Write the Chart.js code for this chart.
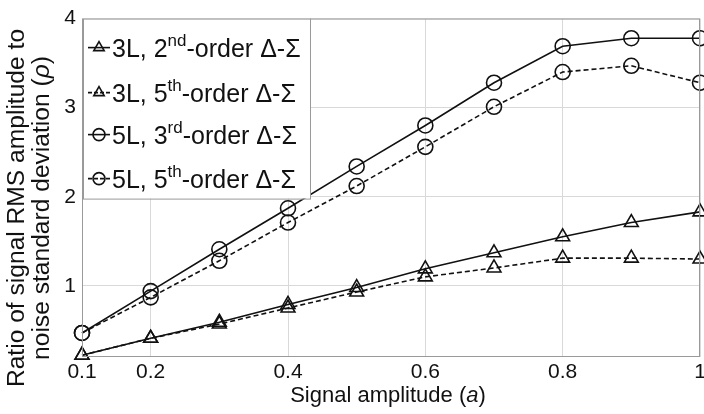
<!DOCTYPE html>
<html>
<head>
<meta charset="utf-8">
<script src="https://cdn.jsdelivr.net/npm/chart.js@4.4.0/dist/chart.umd.min.js"></script>
<style>
  html, body { margin: 0; padding: 0; background: #fff; }
  #wrap { width: 704px; height: 414px; position: relative; }
</style>
</head>
<body>
<div id="wrap"><canvas id="chartRatio" width="704" height="414"></canvas></div>
<script>
// Signal amplitude (a)
const amplitudes = [0.1, 0.2, 0.3, 0.4, 0.5, 0.6, 0.7, 0.8, 0.9, 1.0];

// Ratio of signal RMS amplitude to noise std (rho) for each modulator
const l3Order2 = [0.22, 0.41, 0.59, 0.79, 0.98, 1.19, 1.37, 1.55, 1.71, 1.83];
const l3Order5 = [0.22, 0.41, 0.57, 0.75, 0.93, 1.10, 1.20, 1.31, 1.31, 1.30];
const l5Order3 = [0.47, 0.94, 1.41, 1.87, 2.34, 2.80, 3.28, 3.69, 3.78, 3.78];
const l5Order5 = [0.47, 0.87, 1.28, 1.71, 2.12, 2.56, 3.01, 3.40, 3.47, 3.28];

// tick labels
const xTicks = [0.1, 0.2, 0.4, 0.6, 0.8, 1];
const yTicks = [1, 2, 3, 4];

// legend text pieces: [before, superscript, after]
const legendLabels = [
    ['3L, 2', 'nd', '-order \u0394-\u03A3'],
    ['3L, 5', 'th', '-order \u0394-\u03A3'],
    ['5L, 3', 'rd', '-order \u0394-\u03A3'],
    ['5L, 5', 'th', '-order \u0394-\u03A3']
];

// axis titles: [normal, italic, normal]
const xTitle = ['Signal amplitude (', 'a', ')'];
const yTitle1 = 'Ratio of signal RMS amplitude to';
const yTitle2 = ['noise standard deviation (', '\u03C1', ')'];

const FONT = '"Liberation Sans", Arial, sans-serif';

function toPoints(vals) {
    return vals.map((v, i) => ({ x: amplitudes[i], y: v }));
}

function serie(label, vals, style, dashed) {
    return {
        label: label,
        data: toPoints(vals),
        borderColor: '#111',
        backgroundColor: 'rgba(255,255,255,0)',
        borderWidth: 1.6,
        borderDash: dashed ? [5, 3] : [],
        pointStyle: style,
        pointRadius: style === 'triangle' ? 8 : 7.5,
        pointBorderWidth: 1.6,
        pointBorderColor: '#111',
        pointBackgroundColor: 'rgba(255,255,255,0)',
        clip: 10,
        tension: 0
    };
}

// dibuja trozos de texto seguidos, algunos en cursiva
function drawParts(ctx, parts, size, x, y) {
    const fonts = parts.map((p, i) => (i % 2 === 1 ? 'italic ' : '') + size + 'px ' + FONT);
    let total = 0;
    parts.forEach((p, i) => { ctx.font = fonts[i]; total += ctx.measureText(p).width; });
    let cx = x - total / 2;
    parts.forEach((p, i) => {
        ctx.font = fonts[i];
        ctx.fillText(p, cx, y);
        cx += ctx.measureText(p).width;
    });
}

// marco gris del area, titulos y leyenda dibujada a mano (con superindices)
const framePlugin = {
    id: 'frame',
    afterDatasetsDraw(chart) {
        const ctx = chart.ctx;
        const a = chart.chartArea;
        ctx.save();
        ctx.strokeStyle = '#9a9a9a';
        ctx.lineWidth = 1;
        ctx.strokeRect(a.left + 0.5, a.top + 0.5, a.right - a.left - 1, a.bottom - a.top - 1);

        // titulos de ejes
        ctx.fillStyle = '#111';
        ctx.textBaseline = 'middle';
        ctx.textAlign = 'left';
        drawParts(ctx, xTitle, 22, (a.left + a.right) / 2 - 3, 396);
        ctx.save();
        ctx.translate(17, 208);
        ctx.rotate(-Math.PI / 2);
        drawParts(ctx, [yTitle1], 24.6, 0, 0);
        drawParts(ctx, yTitle2, 24.6, 0, 25);
        ctx.restore();

        // leyenda
        const bx = a.left + 1, by = a.top, bw = 227, bh = 180;
        ctx.fillStyle = '#fff';
        ctx.fillRect(bx, by, bw, bh);
        ctx.strokeStyle = '#9a9a9a';
        ctx.lineWidth = 1;
        ctx.strokeRect(bx + 0.5, by + 0.5, bw, bh);

        const rows = [29, 74, 116, 160];
        const styles = ['triangle', 'triangle', 'circle', 'circle'];
        const dashed = [false, true, false, true];
        rows.forEach((dy, i) => {
            const y = by + dy;
            ctx.strokeStyle = '#111';
            ctx.lineWidth = 1.6;
            ctx.setLineDash(dashed[i] ? [4, 2] : []);
            ctx.beginPath();
            ctx.moveTo(bx + 5, y);
            ctx.lineTo(bx + 27, y);
            ctx.stroke();
            ctx.setLineDash([]);
            ctx.fillStyle = 'rgba(255,255,255,0)';
            Chart.helpers.drawPoint(ctx, {
                pointStyle: styles[i], radius: 6, borderWidth: 1.6
            }, bx + 16, y);

            const parts = legendLabels[i];
            let x = bx + 29;
            ctx.fillStyle = '#111';
            ctx.textBaseline = 'middle';
            ctx.textAlign = 'left';
            ctx.font = '25px ' + FONT;
            ctx.fillText(parts[0], x, y + 3);
            x += ctx.measureText(parts[0]).width;
            ctx.font = '17px ' + FONT;
            ctx.fillText(parts[1], x, y - 6);
            x += ctx.measureText(parts[1]).width;
            ctx.font = '25px ' + FONT;
            ctx.fillText(parts[2], x, y + 3);
        });
        ctx.restore();
    }
};

const grid = {
    color: '#d9d9d9',
    lineWidth: 1,
    drawTicks: false
};

const chartRatio = new Chart(document.getElementById('chartRatio'), {
    type: 'line',
    data: {
        datasets: [
            serie('3L, 2nd-order \u0394-\u03A3', l3Order2, 'triangle', false),
            serie('3L, 5th-order \u0394-\u03A3', l3Order5, 'triangle', true),
            serie('5L, 3rd-order \u0394-\u03A3', l5Order3, 'circle', false),
            serie('5L, 5th-order \u0394-\u03A3', l5Order5, 'circle', true)
        ]
    },
    options: {
        responsive: false,
        animation: false,
        layout: { autoPadding: false, padding: { top: 13, right: 4, left: 0, bottom: 0 } },
        plugins: {
            legend: { display: false },
            tooltip: { enabled: false }
        },
        scales: {
            x: {
                type: 'linear',
                min: 0.1,
                max: 1,
                afterBuildTicks: s => { s.ticks = xTicks.map(v => ({ value: v })); },
                afterFit: s => { s.height = 57; s.paddingRight = 4; },
                grid: grid,
                border: { display: false },
                ticks: {
                    color: '#111',
                    padding: 3,
                    maxRotation: 0,
                    font: { family: FONT, size: 21 },
                    callback: v => String(v)
                }
            },
            y: {
                min: 0.2,
                max: 4,
                afterBuildTicks: s => { s.ticks = yTicks.map(v => ({ value: v })); },
                afterFit: s => { s.width = 82; },
                grid: grid,
                border: { display: false },
                ticks: {
                    color: '#111',
                    padding: 6,
                    font: { family: FONT, size: 21 }
                }
            }
        }
    },
    plugins: [framePlugin]
});
</script>
</body>
</html>
